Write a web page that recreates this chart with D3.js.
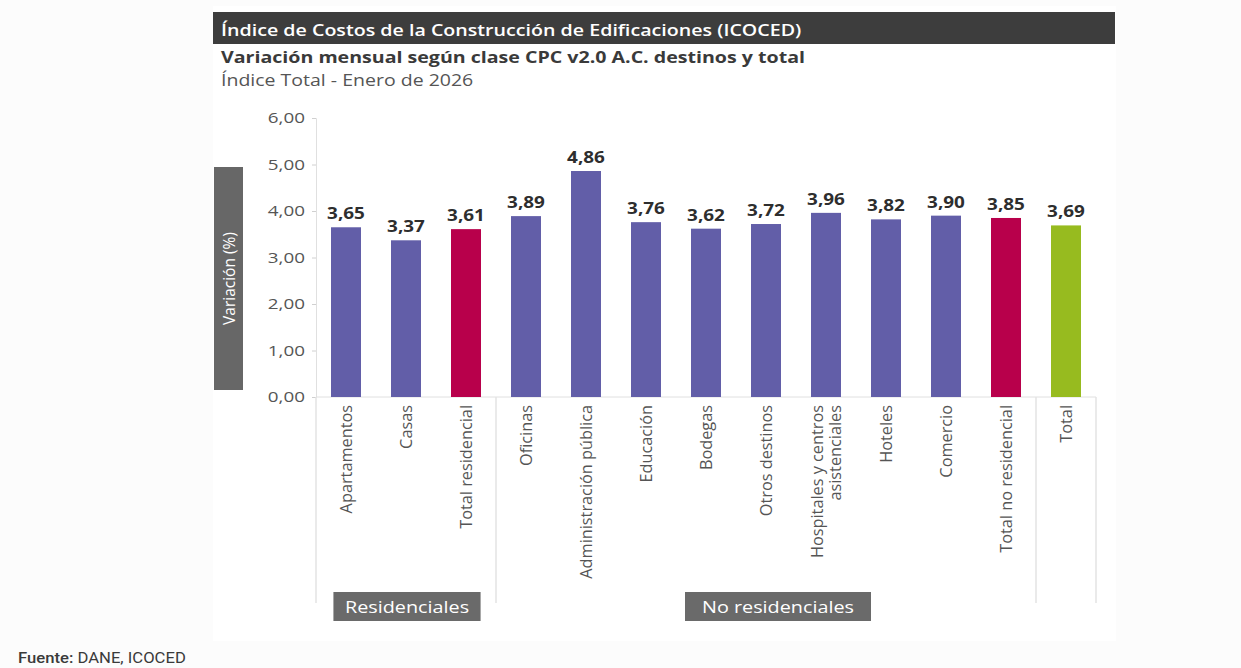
<!DOCTYPE html>
<html><head><meta charset="utf-8">
<script src="https://cdn.jsdelivr.net/npm/d3@7/dist/d3.min.js"></script>
<style>
body{margin:0;background:#fcfcfc;}
svg{display:block;font-family:"Open Sans",sans-serif;}
</style></head>
<body><svg id="c" width="1241" height="668"></svg>
<script>
const categories = ["Apartamentos","Casas","Total residencial","Oficinas","Administración pública","Educación","Bodegas","Otros destinos","Hospitales y centros|asistenciales","Hoteles","Comercio","Total no residencial","Total"];
const values = [3.65,3.37,3.61,3.89,4.86,3.76,3.62,3.72,3.96,3.82,3.90,3.85,3.69];
const kinds = ["d","d","r","d","d","d","d","d","d","d","d","r","t"];
const yTicks = [0,1,2,3,4,5,6];
const groupNames = ["Residenciales","No residenciales"];
const groupFrom = [0,3];
const groupTo = [2,11];
const colors = {d:"#625ea8", r:"#b8004b", t:"#97bb1f"};
const groupLabelShift = [1,12]; // layout: reference boxes sit slightly right of group centre
const groupLabelPad = [23,34];
const SX = 1.22; // horizontal stretch of the reference's text

const svg = d3.select("#c");
function stretchText(g, x, y, sx, anchor){
  return g.append("text").attr("transform",`translate(${x},${y}) scale(${sx},1)`).attr("text-anchor",anchor||"start");
}
svg.append("rect").attr("x",213).attr("y",6).attr("width",903).attr("height",635).attr("fill","#fff");
svg.append("rect").attr("x",213).attr("y",12).attr("width",902).attr("height",32).attr("fill","#3d3d3d");
stretchText(svg,221,36,1.155).attr("fill","#fff").attr("font-size",17).attr("font-weight",600)
  .text("Índice de Costos de la Construcción de Edificaciones (ICOCED)");
stretchText(svg,221,63,1.225).attr("fill","#3a3a3a").attr("font-size",16).attr("font-weight",700)
  .text("Variación mensual según clase CPC v2.0 A.C. destinos y total");
stretchText(svg,221,86,1.22).attr("fill","#555").attr("font-size",16)
  .text("Índice Total - Enero de 2026");

const x = d3.scaleBand().domain(d3.range(categories.length)).range([316,1096]).paddingInner(0.5).paddingOuter(0.25);
const y = d3.scaleLinear().domain([0,6]).range([397,118]);

// y axis
const ya = svg.append("g").attr("transform","translate(316,0)")
  .call(d3.axisLeft(y).tickValues(yTicks).tickSize(4).tickFormat(d=>d3.format(".2f")(d).replace(".",",")));
ya.select(".domain").attr("stroke","#e0e0e0");
ya.selectAll(".tick line").attr("stroke","#d0d0d0");
ya.selectAll(".tick text").attr("fill","#555").attr("font-size",14.5).attr("font-family","Open Sans")
  .attr("x",-11/1.3).attr("transform","scale(1.3,1)");

// y title box
svg.append("rect").attr("x",214).attr("y",167).attr("width",29).attr("height",223).attr("fill","#676767");
svg.append("text").attr("transform","translate(235,278.5) rotate(-90)").attr("text-anchor","middle")
  .attr("fill","#fff").attr("font-size",15.5).text("Variación (%)");

// x baseline
svg.append("line").attr("x1",316).attr("x2",1096).attr("y1",y(0)).attr("y2",y(0)).attr("stroke","#e0e0e0");

// group separators
const step = x.step();
const bounds = [0,3,12,13].map(i => 316 + i*step);
bounds.forEach(b => svg.append("line").attr("x1",b).attr("x2",b).attr("y1",y(0)).attr("y2",603).attr("stroke","#e3e3e3").attr("stroke-width",1.5));

// bars
svg.selectAll("rect.bar").data(values).join("rect").attr("class","bar")
  .attr("x",(d,i)=>x(i)).attr("width",x.bandwidth()).attr("y",d=>y(d)).attr("height",d=>y(0)-y(d))
  .attr("fill",(d,i)=>colors[kinds[i]]);

// value labels
values.forEach((d,i)=>{
  stretchText(svg, x(i)+x.bandwidth()/2, y(d)-8, SX, "middle")
    .attr("fill","#2e2e2e").attr("font-size",15.5).attr("font-weight",700)
    .text(d3.format(".2f")(d).replace(".",","));
});

// category labels
categories.forEach((c,i)=>{
  const lines = c.split("|");
  const cx = x(i)+x.bandwidth()/2;
  const t = svg.append("text").attr("transform",`translate(${cx},405) rotate(-90)`).attr("text-anchor","end")
    .attr("fill","#555").attr("font-size",16.3);
  const n = lines.length;
  lines.forEach((l,k)=>{
    t.append("tspan").attr("x",0).attr("y",(k-(n-1)/2)*18 + 5.5).text(l);
  });
});

// group label boxes
groupNames.forEach((name,gi)=>{
  const cx = (316+groupFrom[gi]*step + 316+(groupTo[gi]+1)*step)/2 + groupLabelShift[gi];
  const r = svg.append("rect").attr("y",592).attr("height",29).attr("fill","#6a6a6a");
  const t = stretchText(svg,cx,613,1.2,"middle").attr("fill","#fff").attr("font-size",16.5).text(name);
  const w = t.node().getComputedTextLength()*1.2+groupLabelPad[gi];
  r.attr("x",cx-w/2).attr("width",w);
});

// source
const s = stretchText(svg,18,663,1.19).attr("font-size",14).attr("fill","#3a3a3a").attr("font-family","Roboto");
s.append("tspan").attr("font-weight",500).text("Fuente:");
s.append("tspan").text(" DANE, ICOCED");
</script></body></html>
